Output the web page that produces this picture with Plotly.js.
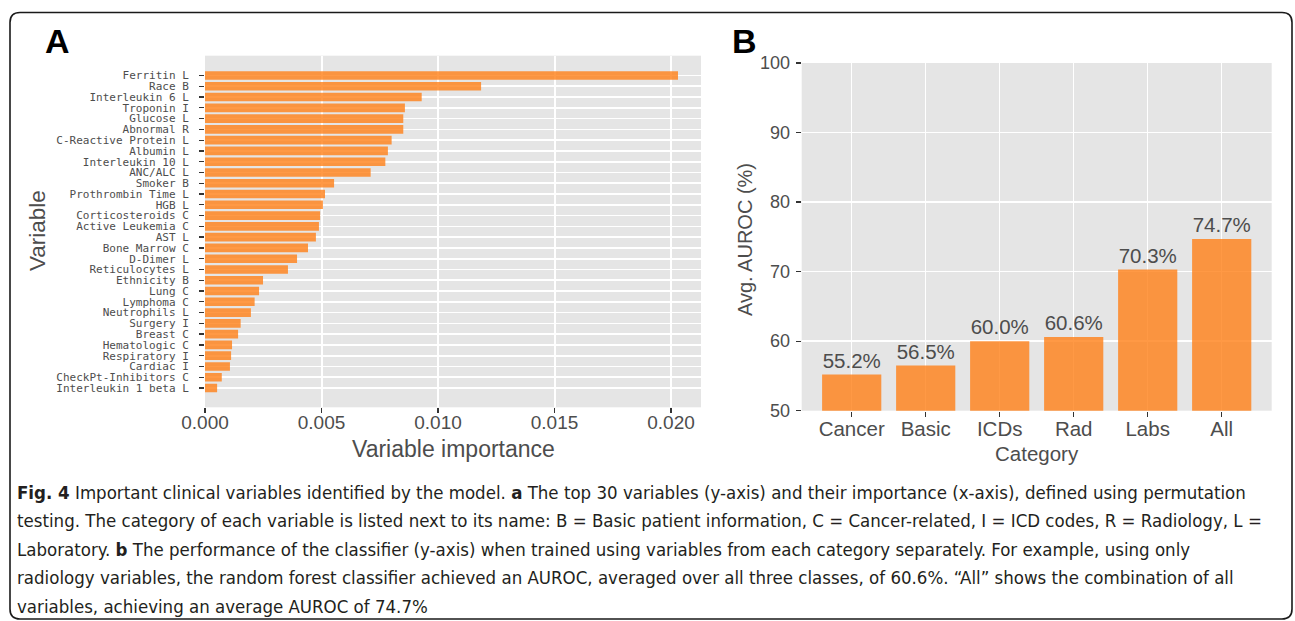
<!DOCTYPE html>
<html>
<head>
<meta charset="utf-8">
<script src="https://cdn.plot.ly/plotly-3.0.1.min.js"></script>
<style>
html,body{margin:0;padding:0;background:#fff;}
#chart{width:1295px;height:621px;}
</style>
</head>
<body>
<div id="chart"></div>
<script>
// ---- Panel A data (top to bottom) ----
const variableLabels = [
  "Ferritin L", "Race B", "Interleukin 6 L", "Troponin I", "Glucose L",
  "Abnormal R", "C-Reactive Protein L", "Albumin L", "Interleukin 10 L", "ANC/ALC L",
  "Smoker B", "Prothrombin Time L", "HGB L", "Corticosteroids C", "Active Leukemia C",
  "AST L", "Bone Marrow C", "D-Dimer L", "Reticulocytes L", "Ethnicity B",
  "Lung C", "Lymphoma C", "Neutrophils L", "Surgery I", "Breast C",
  "Hematologic C", "Respiratory I", "Cardiac I", "CheckPt-Inhibitors C", "Interleukin 1 beta L"
];
const importance = [
  0.0203, 0.01185, 0.0093, 0.00858, 0.00851,
  0.00851, 0.00801, 0.00785, 0.00774, 0.00711,
  0.00554, 0.00515, 0.00506, 0.00494, 0.00489,
  0.00476, 0.00442, 0.00395, 0.00356, 0.00249,
  0.00232, 0.00213, 0.00197, 0.00153, 0.00142,
  0.00116, 0.00112, 0.00107, 0.00072, 0.00052
];
const importanceTicks = [0, 0.005, 0.010, 0.015, 0.020];
const importanceTickText = ["0.000", "0.005", "0.010", "0.015", "0.020"];

// ---- Panel B data ----
const categories = ["Cancer", "Basic", "ICDs", "Rad", "Labs", "All"];
const aurocPct = [55.2, 56.5, 60.0, 60.6, 70.3, 74.7];
const aurocTicks = [50, 60, 70, 80, 90, 100];

// ---- Caption ----
const captionLines = [
  "<b>Fig. 4</b> Important clinical variables identified by the model. <b>a</b> The top 30 variables (y-axis) and their importance (x-axis), defined using permutation",
  "testing. The category of each variable is listed next to its name: B = Basic patient information, C = Cancer-related, I = ICD codes, R = Radiology, L =",
  "Laboratory. <b>b</b> The performance of the classifier (y-axis) when trained using variables from each category separately. For example, using only",
  "radiology variables, the random forest classifier achieved an AUROC, averaged over all three classes, of 60.6%. \u201CAll\u201D shows the combination of all",
  "variables, achieving an average AUROC of 74.7%"
];

const W = 1295, H = 621;
const px = v => v / W;
const py = v => 1 - v / H;

const barColor = "rgba(255,128,22,0.8)";
const grayText = "#4D4D4D";
const sans = "Liberation Sans, Arial, sans-serif";

const traceA = {
  type: "bar", orientation: "h",
  x: importance, y: variableLabels,
  xaxis: "x", yaxis: "y",
  marker: {color: barColor},
  width: 0.8,
  hoverinfo: "x+y"
};
const traceB = {
  type: "bar",
  x: categories, y: aurocPct,
  xaxis: "x2", yaxis: "y2",
  marker: {color: barColor},
  width: 0.8,
  text: aurocPct.map(v => v.toFixed(1) + "%"),
  textposition: "outside",
  textfont: {family: sans, size: 20.5, color: grayText},
  cliponaxis: false,
  hoverinfo: "x+y"
};

const stepA = 10.776; // px per category (for range)
const topPadA = (75.5 - 55.7) / stepA;
const spanA = (407.3 - 55.7) / stepA;

const captionAnn = captionLines.map((t, i) => ({
  text: t, xref: "paper", yref: "paper",
  x: px(15), y: py(492 + i * 28.6), xanchor: "left", yanchor: "middle",
  showarrow: false, align: "left",
  font: {family: "Liberation Sans Narrow, DejaVu Sans Condensed, Arial Narrow, sans-serif", size: 18.5, color: "#231F20"}
}));

const layout = {
  width: W, height: H,
  margin: {l: 0, r: 0, t: 0, b: 0},
  paper_bgcolor: "#ffffff",
  plot_bgcolor: "#E5E5E5",
  showlegend: false,
  bargap: 0.2,
  xaxis: {
    domain: [px(205), px(701)],
    range: [0, (701 - 205) / 116.5 * 0.005],
    tickvals: importanceTicks, ticktext: importanceTickText,
    ticks: "outside", ticklen: 5, tickwidth: 1.3, tickcolor: "#333333",
    ticklabelstandoff: -7,
    tickfont: {family: sans, size: 19, color: grayText},
    showgrid: true, gridcolor: "#ffffff", gridwidth: 2,
    zeroline: false, showline: false, anchor: "y", fixedrange: true
  },
  yaxis: {
    domain: [1 - 407.3 / H, 1 - 55.7 / H],
    type: "category",
    categoryorder: "array", categoryarray: variableLabels,
    tickmode: "array", tickvals: variableLabels, ticktext: variableLabels,
    range: [spanA - topPadA, -topPadA],
    ticks: "outside", ticklen: 5, tickwidth: 1.3, tickcolor: "#333333",
    ticklabelstandoff: 8,
    tickfont: {family: "DejaVu Sans Mono, monospace", size: 11, color: grayText},
    showgrid: true, gridcolor: "#ffffff", gridwidth: 1.7,
    zeroline: false, showline: false, anchor: "x", fixedrange: true
  },
  xaxis2: {
    domain: [px(801.7), px(1271.7)],
    type: "category",
    range: [-50 / 74, 5 + 50 / 74],
    ticks: "outside", ticklen: 5, tickwidth: 1.3, tickcolor: "#333333",
    ticklabelstandoff: -5,
    tickfont: {family: sans, size: 20.5, color: grayText},
    showgrid: true, gridcolor: "#ffffff", gridwidth: 1.5,
    zeroline: false, showline: false, anchor: "y2", fixedrange: true
  },
  yaxis2: {
    domain: [1 - 410.7 / H, 1 - 63 / H],
    range: [50, 100],
    tickvals: aurocTicks,
    ticks: "outside", ticklen: 5, tickwidth: 1.3, tickcolor: "#333333",
    ticklabelstandoff: 2,
    tickfont: {family: sans, size: 18, color: grayText},
    showgrid: true, gridcolor: "#ffffff", gridwidth: 1.5,
    zeroline: false, showline: false, anchor: "x2", fixedrange: true
  },
  annotations: [
    {text: "<b>A</b>", xref: "paper", yref: "paper", x: px(57.5), y: py(41), xanchor: "center", yanchor: "middle",
     showarrow: false, font: {family: sans, size: 34, color: "#000"}},
    {text: "<b>B</b>", xref: "paper", yref: "paper", x: px(744), y: py(41), xanchor: "center", yanchor: "middle",
     showarrow: false, font: {family: sans, size: 34, color: "#000"}},
    {text: "Variable", xref: "paper", yref: "paper", x: px(37), y: py(231), xanchor: "center", yanchor: "middle",
     textangle: -90, showarrow: false, font: {family: sans, size: 22.5, color: grayText}},
    {text: "Variable importance", xref: "paper", yref: "paper", x: px(453), y: py(449), xanchor: "center", yanchor: "middle",
     showarrow: false, font: {family: sans, size: 23, color: grayText}},
    {text: "Avg. AUROC (%)", xref: "paper", yref: "paper", x: px(745), y: py(240), xanchor: "center", yanchor: "middle",
     textangle: -90, showarrow: false, font: {family: sans, size: 20, color: grayText}},
    {text: "Category", xref: "paper", yref: "paper", x: px(1036.7), y: py(453), xanchor: "center", yanchor: "middle",
     showarrow: false, font: {family: sans, size: 20.5, color: grayText}}
  ].concat(captionAnn),
  shapes: [
    {type: "path", xref: "paper", yref: "paper", layer: "above",
     path: "M " + px(20) + "," + py(12.5) +
           " L " + px(1282) + "," + py(12.5) +
           " Q " + px(1292) + "," + py(12.5) + " " + px(1292) + "," + py(22.5) +
           " L " + px(1292) + "," + py(609) +
           " Q " + px(1292) + "," + py(619) + " " + px(1282) + "," + py(619) +
           " L " + px(20) + "," + py(619) +
           " Q " + px(10) + "," + py(619) + " " + px(10) + "," + py(609) +
           " L " + px(10) + "," + py(22.5) +
           " Q " + px(10) + "," + py(12.5) + " " + px(20) + "," + py(12.5) + " Z",
     line: {color: "#1a1a1a", width: 1.6}}
  ]
};

Plotly.newPlot("chart", [traceA, traceB], layout, {displayModeBar: false, staticPlot: true});
</script>
</body>
</html>
